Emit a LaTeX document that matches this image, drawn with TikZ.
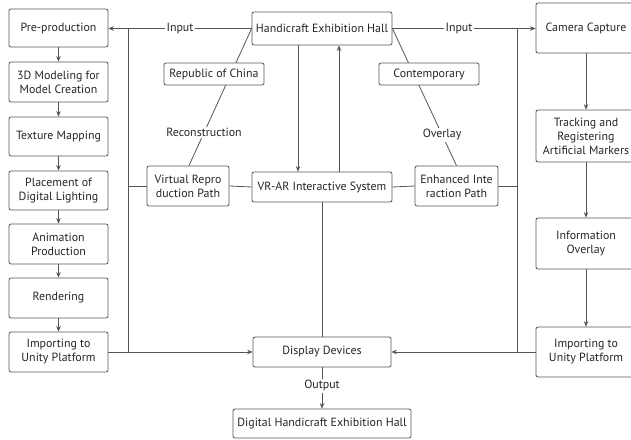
\documentclass[tikz,border=0pt]{standalone}
\usepackage{fontspec}
\setmainfont{PT Sans}
\usetikzlibrary{arrows.meta,backgrounds}
\definecolor{ln}{HTML}{555555}
\tikzset{
  box/.style={draw=ln, line width=0.8pt, rounded corners=2pt, fill=white, align=center, inner sep=1pt, font=\fontsize{11.9}{14}\selectfont, text=black!85},
  lbl/.style={fill=white, inner sep=1.5pt, font=\fontsize{11.9}{14}\selectfont, text=black!85},
  conn/.style={draw=ln, line width=0.8pt},
  arr/.style={conn, -{Stealth[length=5.5pt,width=4.5pt]}}
}
\begin{document}
\begin{tikzpicture}[x=1pt,y=-1pt]
\useasboundingbox (0,0) rectangle (631,439);
% left column
\node[box, minimum width=99pt, minimum height=38pt] (pre) at (58.5,28) {Pre-production};
\node[box, minimum width=99pt, minimum height=40pt] (model) at (58.5,82) {3D Modeling for\\Model Creation};
\node[box, minimum width=99pt, minimum height=39pt] (tex) at (58.5,136.5) {Texture Mapping};
\node[box, minimum width=99pt, minimum height=39pt] (light) at (58.5,190.5) {Placement of\\Digital Lighting};
\node[box, minimum width=99pt, minimum height=40pt] (anim) at (58.5,244) {Animation\\Production};
\node[box, minimum width=99pt, minimum height=40pt] (rend) at (58.5,298) {Rendering};
\node[box, minimum width=99pt, minimum height=40pt] (impL) at (58.5,352) {Importing to\\Unity Platform};
% centre
\node[box, minimum width=140pt, minimum height=33pt] (hall) at (322,28.5) {Handicraft Exhibition Hall};
\node[box, minimum width=100pt, minimum height=22pt] (roc) at (214,74) {Republic of China};
\node[box, minimum width=100pt, minimum height=22pt] (cont) at (429,74) {Contemporary};
\node[box, minimum width=82pt, minimum height=40pt] (vrp) at (188,186) {Virtual Repro\\duction Path};
\node[box, minimum width=140pt, minimum height=30pt] (vrar) at (322,187) {VR-AR Interactive System};
\node[box, minimum width=83pt, minimum height=40pt] (eip) at (456.5,186) {Enhanced Inte\\raction Path};
\node[box, minimum width=138pt, minimum height=30pt] (disp) at (322,352) {Display Devices};
\node[box, minimum width=178pt, minimum height=29pt] (dig) at (322,423.5) {Digital Handicraft Exhibition Hall};
% right column
\node[box, minimum width=100pt, minimum height=50pt] (cam) at (586,28) {Camera Capture};
\node[box, minimum width=100pt, minimum height=52pt] (track) at (586,136) {Tracking and\\Registering\\Artificial Markers};
\node[box, minimum width=100pt, minimum height=51pt] (info) at (586,243.5) {Information\\Overlay};
\node[box, minimum width=100pt, minimum height=50pt] (impR) at (586,352) {Importing to\\Unity Platform};
% helper coordinates
\coordinate (lt) at (128,28.5);
\coordinate (lb) at (128,352);
\coordinate (rt) at (517,28.5);
\coordinate (rb) at (517,352);
\begin{pgfonlayer}{background}
% left chain
\draw[arr] (pre) -- (model);
\draw[arr] (model) -- (tex);
\draw[arr] (tex) -- (light);
\draw[arr] (light) -- (anim);
\draw[arr] (anim) -- (rend);
\draw[arr] (rend) -- (impL);
% right chain
\draw[arr] (cam) -- (track);
\draw[arr] (track) -- (info);
\draw[arr] (info) -- (impR);
% inputs
\draw[arr] (hall.west) -- node[lbl, pos=0.5] {Input} (hall.west -| pre.east);
\draw[arr] (hall.east) -- node[lbl, pos=0.465] {Input} (hall.east -| cam.west);
% vertical rails
\draw[conn] (lt) -- (lb);
\draw[conn] (rt) -- (rb);
\draw[conn] (vrp.west) -- (vrp.west -| lt);
\draw[conn] (eip.east) -- (eip.east -| rt);
\draw[conn] (vrar.west) -- (vrp.east);
\draw[conn] (vrar.east) -- (eip.west);
% to display
\draw[arr] (impL.east) -- (disp.west);
\draw[arr] (impR.west) -- (disp.east);
\draw[conn] (vrar.south) -- (disp.north);
\draw[arr] (disp.south) -- node[lbl, pos=0.45] {Output} (dig.north);
% hall <-> vrar
\draw[arr] ([xshift=-24pt]hall.south) -- ([xshift=-24pt]vrar.north);
\draw[arr] ([xshift=17pt]vrar.north) -- ([xshift=17pt]hall.south);
% diagonals
\draw[conn] (hall.west) -- node[lbl, pos=0.76] {Reconstruction} ([xshift=1pt]vrp.north);
\draw[conn] (hall.east) -- node[lbl, pos=0.775] {Overlay} (eip.north);
\end{pgfonlayer}
\end{tikzpicture}
\end{document}
